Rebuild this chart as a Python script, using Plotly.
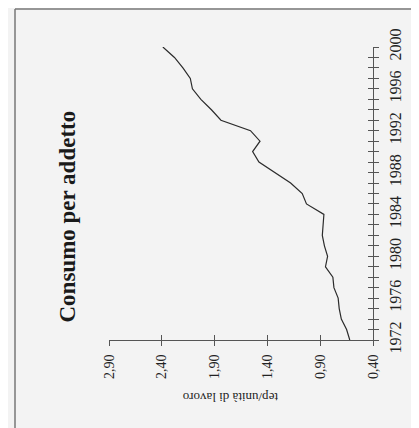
import plotly.graph_objects as go

# consumo per addetto (tep/unità di lavoro), 1972-2000
anni = list(range(1972, 2001))
consumo = [0.62, 0.65, 0.70, 0.72, 0.73, 0.77, 0.78, 0.85, 0.83, 0.86,
           0.88, 0.875, 0.865, 1.03, 1.07, 1.18, 1.33, 1.48, 1.54, 1.47,
           1.56, 1.84, 1.93, 2.03, 2.11, 2.13, 2.20, 2.28, 2.39]

titolo = "Consumo per addetto"
unita = "tep/unità di lavoro"

serif = "Liberation Serif, Times New Roman, serif"
asse_col = "#555555"
OFF = 8  # margine del body della pagina html
W, H = 419 - OFF, 428 - OFF
L, R, T, B = 109 - OFF, 46, 47 - OFF, 88

fig = go.Figure()

# grafico ruotato: valori in orizzontale (invertiti), anni in verticale
fig.add_trace(go.Scatter(
    x=consumo, y=anni, mode="lines",
    line=dict(color="#2b2b2b", width=1.2),
    hoverinfo="skip", showlegend=False
))
# traccia invisibile per gli assi sovrapposti (tacche che attraversano l'asse)
fig.add_trace(go.Scatter(
    x=consumo, y=anni, mode="lines", xaxis="x2", yaxis="y2",
    line=dict(color="rgba(0,0,0,0)", width=0),
    hoverinfo="skip", showlegend=False
))

comune_x = dict(range=[2.9, 0.4], tick0=0.4, dtick=0.5, showgrid=False, zeroline=False,
                ticklen=5, tickwidth=1, tickcolor=asse_col)
comune_y = dict(range=[1972, 2000], showgrid=False, zeroline=False,
                ticklen=5, tickwidth=1, tickcolor=asse_col)

fig.update_layout(
    width=W, height=H,
    margin=dict(l=L, r=R, t=T, b=B),
    paper_bgcolor="#f3f3f3", plot_bgcolor="#f3f3f3",
    separators=", ",
    font=dict(family=serif, color="#222222"),
    xaxis=dict(**comune_x, ticks="outside", tickformat=".2f", tickangle=-90,
               showline=True, linecolor=asse_col, linewidth=1,
               tickfont=dict(size=14, family=serif), ticklabelstandoff=3),
    yaxis=dict(**comune_y, side="right", ticks="outside", tick0=1972, dtick=4,
               tickangle=-90, showline=True, linecolor=asse_col, linewidth=1,
               tickfont=dict(size=16, family=serif), ticklabelstandoff=3,
               minor=dict(dtick=1, tick0=1972, ticks="outside", ticklen=5,
                          tickcolor=asse_col, tickwidth=1)),
    xaxis2=dict(**comune_x, overlaying="x", anchor="y2", side="bottom",
                ticks="inside", showticklabels=False, showline=False),
    yaxis2=dict(**comune_y, overlaying="y", anchor="x2", side="right",
                ticks="inside", tick0=1972, dtick=1, showticklabels=False, showline=False),
)

# posizioni in pixel della finestra -> coordinate paper
pw, ph = W - L - R, H - T - B
def px_x(v):
    return (v - OFF - L) / pw
def px_y(v):
    return (H - B - (v - OFF)) / ph

# cornice della pagina scansionata
fig.add_shape(type="line", xref="paper", yref="paper",
              x0=px_x(15), x1=px_x(430), y0=px_y(9), y1=px_y(9),
              line=dict(color="#777777", width=1.5))
fig.add_shape(type="line", xref="paper", yref="paper",
              x0=px_x(15), x1=px_x(15), y0=px_y(9), y1=px_y(440),
              line=dict(color="#777777", width=1.5))

fig.add_annotation(text="<b>" + titolo + "</b>", textangle=-90,
                   xref="paper", yref="paper", x=px_x(52), y=px_y(217),
                   showarrow=False, font=dict(size=23, family=serif, color="#1a1a1a"))
fig.add_annotation(text=unita, textangle=180,
                   xref="paper", yref="paper", x=px_x(231), y=px_y(407),
                   showarrow=False, font=dict(size=13, family=serif, color="#222222"))

fig.write_html("out.html")
